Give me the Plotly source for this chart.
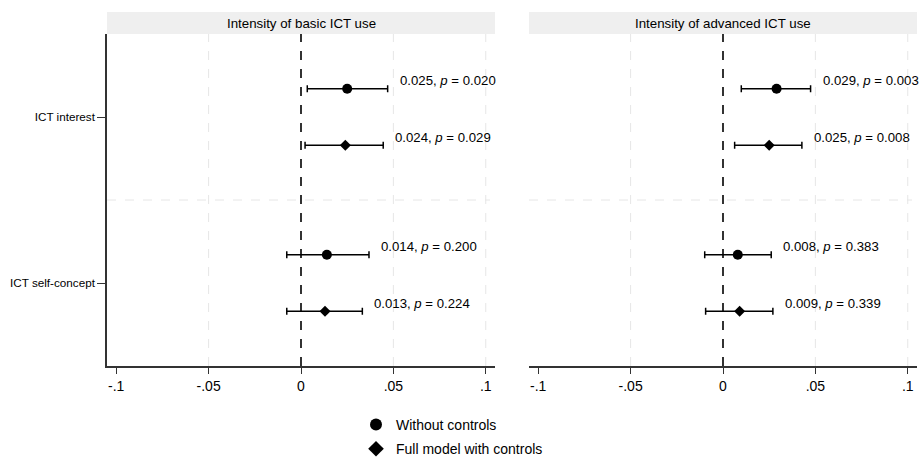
import plotly.graph_objects as go

# ---- data ----
categories = ["ICT interest", "ICT self-concept"]
panels = ["Intensity of basic ICT use", "Intensity of advanced ICT use"]
series_names = ["Without controls", "Full model with controls"]

# basic ICT use
basic_wo_est = [0.025, 0.014]
basic_wo_lo = [0.0034, -0.0077]
basic_wo_hi = [0.0469, 0.0368]
basic_wo_p = [0.020, 0.200]
basic_fm_est = [0.024, 0.013]
basic_fm_lo = [0.0022, -0.0077]
basic_fm_hi = [0.0445, 0.0332]
basic_fm_p = [0.029, 0.224]

# advanced ICT use
adv_wo_est = [0.029, 0.008]
adv_wo_lo = [0.0099, -0.0099]
adv_wo_hi = [0.0474, 0.0261]
adv_wo_p = [0.003, 0.383]
adv_fm_est = [0.025, 0.009]
adv_fm_lo = [0.0063, -0.0094]
adv_fm_hi = [0.0427, 0.0270]
adv_fm_p = [0.008, 0.339]

x_ticks = [-0.1, -0.05, 0, 0.05, 0.1]
x_ticktext = ["-.1", "-.05", "0", ".05", ".1"]

FONT = "Liberation Sans, Arial, sans-serif"
W, H = 921, 459

fig = go.Figure()

panel_data = [
    [(basic_wo_est, basic_wo_lo, basic_wo_hi, basic_wo_p), (basic_fm_est, basic_fm_lo, basic_fm_hi, basic_fm_p)],
    [(adv_wo_est, adv_wo_lo, adv_wo_hi, adv_wo_p), (adv_fm_est, adv_fm_lo, adv_fm_hi, adv_fm_p)],
]
symbols = ["circle", "diamond"]
msizes = [10, 8.5]
offsets = [-0.17, 0.17]

annotations = []
for pi, pdata in enumerate(panel_data):
    xa = "x" if pi == 0 else "x2"
    ya = "y" if pi == 0 else "y2"
    for si, (est, lo, hi, pv) in enumerate(pdata):
        ypos = [i + 1 + offsets[si] for i in range(len(categories))]
        fig.add_trace(go.Scatter(
            x=est, y=ypos, mode="markers", name=series_names[si],
            xaxis=xa, yaxis=ya,
            marker=dict(symbol=symbols[si], size=msizes[si], color="black"),
            error_x=dict(type="data", symmetric=False,
                         array=[h - e for h, e in zip(hi, est)],
                         arrayminus=[e - l for e, l in zip(est, lo)],
                         color="black", thickness=1.5, width=3.5),
            showlegend=(pi == 0), legendgroup=series_names[si],
        ))
        for e, h, p, yv in zip(est, hi, pv, ypos):
            annotations.append(dict(
                x=h, y=yv, xref=xa, yref=ya,
                text=f"{e:.3f}, <i>p</i> = {p:.3f}",
                showarrow=False, xanchor="left", yanchor="middle",
                xshift=10, yshift=8,
                font=dict(family=FONT, size=13.2, color="black"),
            ))

# layout geometry (pixels -> paper)
left_dom = [107 / W, 495 / W]
right_dom = [529 / W, 917 / W]
y_dom = [1 - 366 / H, 1 - 34 / H]
strip_top = 1 - 12 / H

axis_common = dict(
    range=[-0.105, 0.105], tickvals=x_ticks, ticktext=x_ticktext,
    showgrid=False, zeroline=False, showline=True, linecolor="#333333", linewidth=1.5,
    ticks="outside", ticklen=6, tickwidth=1.2, tickcolor="#333333",
    tickfont=dict(family=FONT, size=14, color="black"), automargin=False,
)
yaxis_common = dict(
    range=[2.5, 0.5], tickvals=[1, 2], ticktext=categories,
    showgrid=False, zeroline=False, automargin=False,
    tickfont=dict(family=FONT, size=11.7, color="black"),
    domain=y_dom,
)
fig.update_layout(
    xaxis=dict(domain=left_dom, anchor="y", **axis_common),
    xaxis2=dict(domain=right_dom, anchor="y2", **axis_common),
    yaxis=dict(anchor="x", showline=True, linecolor="#333333", linewidth=1.5,
               ticks="outside", ticklen=8, tickwidth=1.2, tickcolor="#333333", **yaxis_common),
    yaxis2=dict(anchor="x2", showline=False, showticklabels=False, ticks="", **yaxis_common),
)

shapes = []
for xa, ya, dom in [("x", "y", left_dom), ("x2", "y2", right_dom)]:
    # header strip
    shapes.append(dict(type="rect", xref="paper", yref="paper",
                       x0=dom[0], x1=dom[1], y0=y_dom[1], y1=strip_top,
                       fillcolor="#efefef", line=dict(width=0), layer="below"))
    # vertical grid lines (skip the first tick near the edge and zero)
    for t in x_ticks[1:]:
        if t == 0:
            continue
        shapes.append(dict(type="line", xref=xa, yref="paper", x0=t, x1=t,
                           y0=y_dom[0], y1=y_dom[1],
                           line=dict(color="#e6e6e6", width=1, dash="dash"), layer="below"))
    # horizontal grid between categories
    shapes.append(dict(type="line", xref="paper", yref=ya, x0=dom[0], x1=dom[1] - 5 / W,
                       y0=1.5, y1=1.5,
                       line=dict(color="#e6e6e6", width=1, dash="dash"), layer="below"))
    # zero reference line
    shapes.append(dict(type="line", xref=xa, yref="paper", x0=0, x1=0,
                       y0=y_dom[0], y1=y_dom[1],
                       line=dict(color="black", width=1.6, dash="dash")))

for dom, title in zip([left_dom, right_dom], panels):
    annotations.append(dict(
        x=(dom[0] + dom[1]) / 2, y=(y_dom[1] + strip_top) / 2, xref="paper", yref="paper",
        text=title, showarrow=False, xanchor="center", yanchor="middle",
        font=dict(family=FONT, size=13.3, color="black"),
    ))

fig.update_layout(
    width=W, height=H,
    margin=dict(l=0, r=0, t=0, b=0, autoexpand=False),
    paper_bgcolor="white", plot_bgcolor="white",
    shapes=shapes, annotations=annotations,
    font=dict(family=FONT, color="black"),
    legend=dict(orientation="v", x=(376 - 22 + 2) / W, xanchor="left",
                y=-6 / H, yanchor="bottom",
                font=dict(family=FONT, size=14, color="black"),
                tracegroupgap=3, bgcolor="rgba(0,0,0,0)", itemsizing="constant"),
)

# remove the default 8px page margin so the figure fills the window exactly
fig.write_html("out.html",
               config={"displayModeBar": False},
               post_script="document.body.style.margin='0';document.body.style.overflow='hidden';")
